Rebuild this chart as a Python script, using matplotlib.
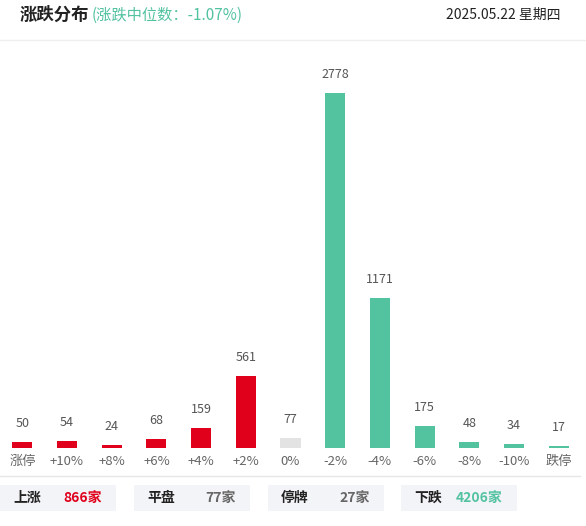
import matplotlib
matplotlib.use("Agg")
import matplotlib.pyplot as plt
from matplotlib.patches import Rectangle

plt.rcParams['font.family'] = ['Noto Sans CJK SC', 'DejaVu Sans']

categories = ["涨停", "+10%", "+8%", "+6%", "+4%", "+2%", "0%", "-2%", "-4%", "-6%", "-8%", "-10%", "跌停"]
values = [50, 54, 24, 68, 159, 561, 77, 2778, 1171, 175, 48, 34, 17]
summary_labels = ["上涨", "平盘", "停牌", "下跌"]
summary_values = ["866家", "77家", "27家", "4206家"]

RED, GREEN, GRAY = "#e0001b", "#52c29f", "#e3e3e3"
colors = [RED]*6 + [GRAY] + [GREEN]*6
sum_colors = [RED, "#666666", "#666666", GREEN]

W, H = 586, 526
fig = plt.figure(figsize=(W/100, H/100), dpi=100)

def fx(x): return x / W
def fy(y): return 1 - y / H

ax = fig.add_axes([0, fy(448), fx(581), fy(50) - fy(448)])
x = range(len(values))
ax.bar(x, values, width=0.45, color=colors)
ax.set_xlim(-0.5, len(values) - 0.5)
ax.set_ylim(0, 2778 * 398 / 355)
for i, v in zip(x, values):
    ax.text(i, v + 2778 * 12 / 355, str(v), ha='center', va='bottom', fontsize=9, color='#555555')
ax.set_xticks(list(x))
ax.set_xticklabels(categories, fontsize=9.5, color='#666666')
ax.tick_params(axis='x', length=0, pad=5)
ax.set_yticks([])
for s in ax.spines.values():
    s.set_visible(False)

# header
fig.text(fx(20), fy(15), "涨跌分布", fontsize=12.5, fontweight='bold', color='#222222', va='center')
fig.text(fx(92), fy(15), "(涨跌中位数：-1.07%)", fontsize=11, color=GREEN, va='center')
fig.text(fx(560), fy(15), "2025.05.22 星期四", fontsize=10, color='#222222', va='center', ha='right')
fig.add_artist(plt.Line2D([0, 1], [fy(40), fy(40)], color='#eeeeee', lw=1))
fig.add_artist(plt.Line2D([0, fx(580)], [fy(476), fy(476)], color='#e6e6e6', lw=1))

# summary boxes
box_x = [0, 134, 268, 401]
for bx, lab, val, c in zip(box_x, summary_labels, summary_values, sum_colors):
    fig.add_artist(Rectangle((fx(bx), fy(511)), fx(116), fy(485) - fy(511), color='#f3f4f8', lw=0))
    fig.text(fx(bx + 13), fy(498), lab, fontsize=10, fontweight='bold', color='#222222', va='center')
    fig.text(fx(bx + 102), fy(498), val, fontsize=10, fontweight='bold', color=c, va='center', ha='right')

fig.savefig("out.png", dpi=100, facecolor='white')
